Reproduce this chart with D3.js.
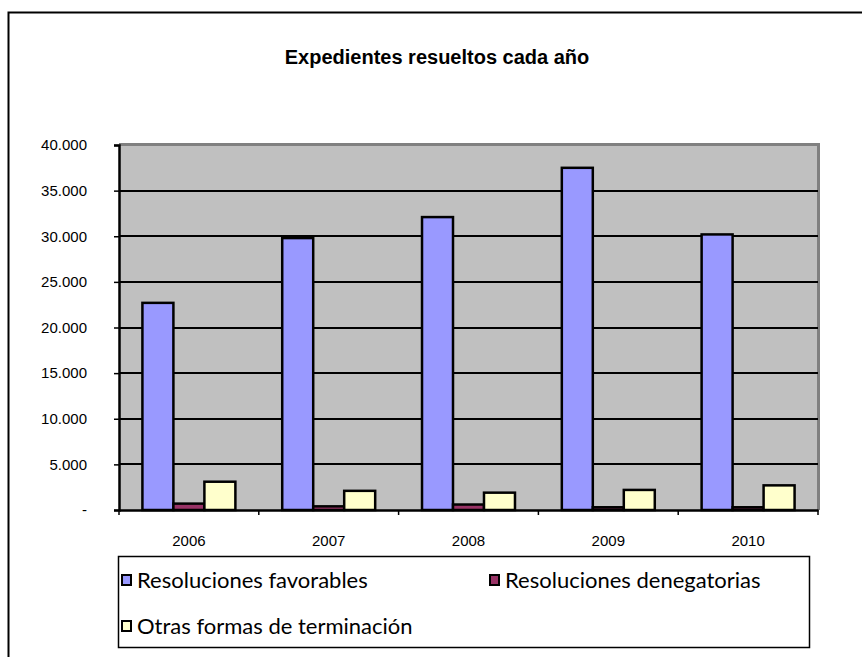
<!DOCTYPE html>
<html>
<head>
<meta charset="utf-8">
<script src="https://cdn.jsdelivr.net/npm/d3@7"></script>
<style>
  body { margin: 0; background: #fff; }
  text { font-family: "Liberation Sans", Arial, sans-serif; }
  .legend text { font-family: Lato, "Open Sans", sans-serif; }
</style>
</head>
<body>
<div id="dataviz"></div>
<script>
// chart values
var years = ["2006", "2007", "2008", "2009", "2010"];
var seriesNames = ["Resoluciones favorables", "Resoluciones denegatorias", "Otras formas de terminación"];
var favorables = [22700, 29800, 32100, 37500, 30200];
var denegatorias = [700, 400, 600, 300, 300];
var otras = [3100, 2100, 1900, 2200, 2700];
var yTicks = [0, 5000, 10000, 15000, 20000, 25000, 30000, 35000, 40000];
var colors = ["#9999ff", "#993366", "#ffffcc"];

var widthFull = 862, heightFull = 657;
var margin = { top: 145, right: 44, bottom: 147, left: 119 };
var width = widthFull - margin.left - margin.right;
var height = heightFull - margin.top - margin.bottom;

var svg = d3.select("#dataviz").append("svg")
    .attr("width", widthFull)
    .attr("height", heightFull);

// outer frame (runs off the right and bottom edges)
svg.append("rect")
    .attr("x", 8.5).attr("y", 12.5)
    .attr("width", 870).attr("height", 660)
    .attr("fill", "none").attr("stroke", "#000").attr("stroke-width", 2);

svg.append("text")
    .attr("x", 437).attr("y", 64)
    .attr("text-anchor", "middle")
    .style("font-size", "20px").style("font-weight", "bold")
    .text("Expedientes resueltos cada año");

var g = svg.append("g").attr("transform", "translate(" + margin.left + "," + margin.top + ")");

var x0 = d3.scaleBand().domain(years).range([0, width]).paddingInner(0.335).paddingOuter(0.1675);
var x1 = d3.scaleBand().domain(seriesNames).range([0, x0.bandwidth()]);
var y = d3.scaleLinear().domain([0, 40000]).range([height, 0]);

// plot background
g.append("rect").attr("width", width).attr("height", height).attr("fill", "#c0c0c0");
g.append("path")
    .attr("d", "M0,-0.5H" + (width + 0.5) + "V" + height)
    .attr("fill", "none").attr("stroke", "#808080").attr("stroke-width", 3);

// gridlines
g.selectAll(".grid").data(yTicks.slice(1, -1)).enter().append("line")
    .attr("x1", 0).attr("x2", width)
    .attr("y1", d => Math.round(y(d))).attr("y2", d => Math.round(y(d)))
    .attr("stroke", "#000").attr("stroke-width", 2);

// bars
var rows = years.map((yr, i) => ({ year: yr, values: [favorables[i], denegatorias[i], otras[i]] }));
g.selectAll(".yr").data(rows).enter().append("g")
    .attr("transform", d => "translate(" + x0(d.year) + ",0)")
    .selectAll("rect").data(d => d.values.map((v, j) => ({ name: seriesNames[j], v: v, c: colors[j] })))
    .enter().append("rect")
    .attr("x", d => x1(d.name))
    .attr("width", x1.bandwidth())
    .attr("y", d => y(d.v))
    .attr("height", d => height - y(d.v))
    .attr("fill", d => d.c)
    .attr("stroke", "#000").attr("stroke-width", 2.5);

// y axis
var yAxis = g.append("g")
    .call(d3.axisLeft(y).tickValues(yTicks).tickSize(5).tickPadding(27)
        .tickFormat(d => d === 0 ? "-" : d3.format(",")(d).replace(/,/g, ".")));
yAxis.select(".domain").attr("stroke-width", 2.5);
yAxis.selectAll(".tick line").attr("stroke-width", 1.5);
yAxis.selectAll("text").style("font-size", "15px").attr("font-family", null);

// x axis
var xAxis = g.append("g").attr("transform", "translate(0," + height + ")")
    .call(d3.axisBottom(x0).tickSize(0).tickPadding(25));
xAxis.select(".domain").attr("stroke-width", 2.5);
xAxis.selectAll("text").style("font-size", "15px").attr("font-family", null);
xAxis.selectAll(".sep").data(d3.range(years.length + 1)).enter().append("line")
    .attr("x1", i => i * width / years.length).attr("x2", i => i * width / years.length)
    .attr("y1", 0).attr("y2", 5).attr("stroke", "#000").attr("stroke-width", 1.5);

// legend
var legend = svg.append("g").attr("class", "legend");
legend.append("rect")
    .attr("x", 118.5).attr("y", 556.5).attr("width", 691).attr("height", 91)
    .attr("fill", "#fff").attr("stroke", "#000").attr("stroke-width", 1.5);
var legendPos = [[121, 580], [489, 580], [121, 626]];
seriesNames.forEach(function(name, i) {
    var p = legendPos[i];
    legend.append("rect")
        .attr("x", p[0] + 1).attr("y", p[1] - 5).attr("width", 9).attr("height", 10)
        .attr("fill", colors[i]).attr("stroke", "#000").attr("stroke-width", 2);
    legend.append("text")
        .attr("x", p[0] + 16).attr("y", p[1] + 8)
        .style("font-size", "22px")
        .text(name);
});
</script>
</body>
</html>
